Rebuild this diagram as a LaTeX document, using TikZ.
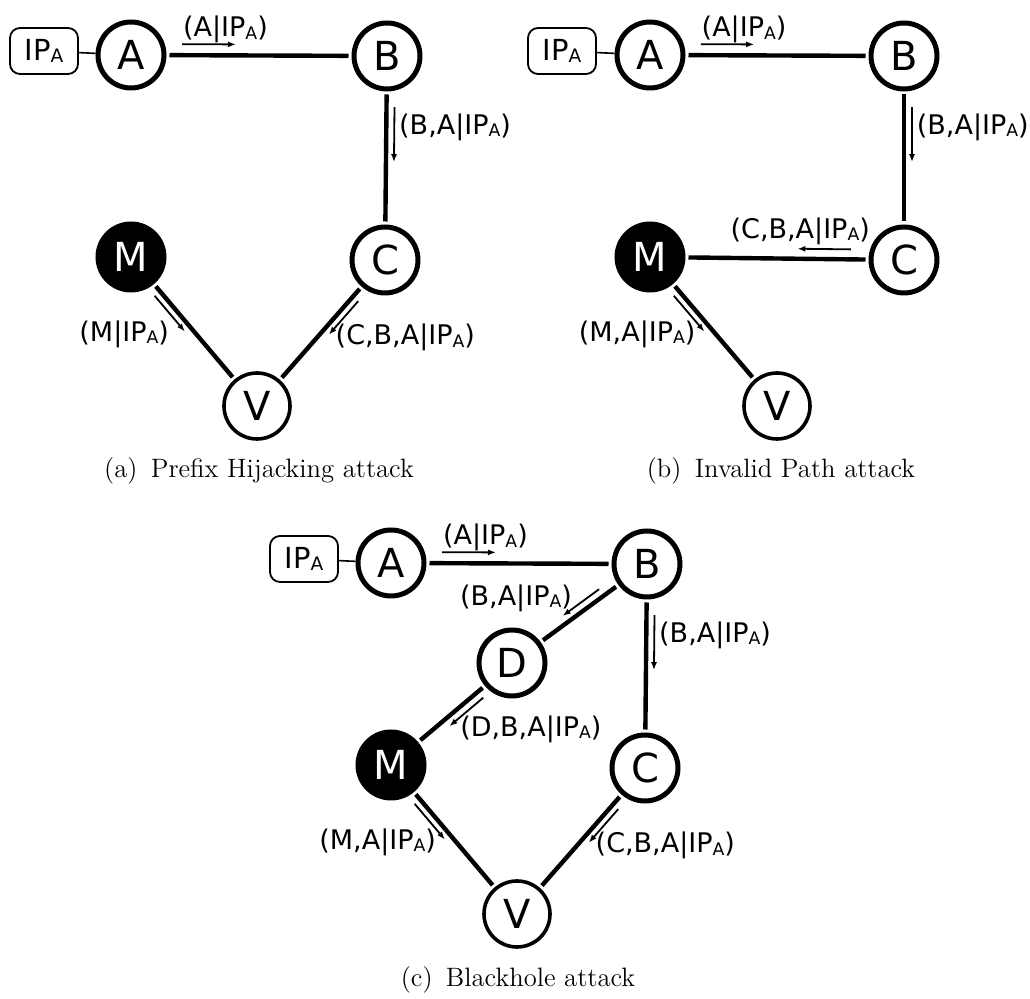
\documentclass[tikz,border=0pt]{standalone}
\usepackage{fontspec}
\usetikzlibrary{arrows.meta,calc}

\newfontfamily\nodefont{DejaVu Sans}
\newcommand{\lblfont}{\nodefont\fontsize{13.5}{14}\selectfont}
\newcommand{\boxfont}{\nodefont\fontsize{14.5}{15}\selectfont}
\newcommand{\ipa}{IP\raisebox{-0.15ex}{\fontsize{0.64em}{1em}\selectfont A}}

\tikzset{
  router/.style={circle, draw, line width=2.5pt, minimum size=33pt, inner sep=0pt,
    font=\nodefont\fontsize{20}{20}\selectfont},
  victim/.style={router, line width=1.8pt},
  attacker/.style={router, fill=black, text=white},
  prefixbox/.style={draw, rounded corners=5pt, line width=0.9pt, minimum width=34pt,
    minimum height=23pt, inner sep=0pt, font=\boxfont},
  link/.style={line width=2.2pt, shorten >=1.5pt, shorten <=1.5pt},
  msg/.style={line width=0.9pt, -{Latex[length=4pt,width=3pt]}},
  lbl/.style={font=\lblfont, inner sep=1pt},
  caption/.style={font=\fontsize{13.3}{16}\selectfont},
}

\begin{document}
\begin{tikzpicture}[x=0.5pt, y=-0.5pt]
\useasboundingbox (0,0) rectangle (1030,999);

% (a) prefix hijacking
\begin{scope}[name prefix=a-]
  \node[prefixbox] (ip) at (44,51) {\ipa};
  \node[router] (A) at (131,55) {A};
  \node[router] (B) at (387,56) {B};
  \node[router] (C) at (385,260) {C};
  \node[attacker] (M) at (131,257) {M};
  \node[victim] (V) at (257,406) {V};

  % links
  \draw[line width=0.8pt] (ip) -- (A);
  \draw[link] (A) -- (B);
  \draw[link] (B) -- (C);
  \draw[link] (C) -- (V);
  \draw[link] (M) -- (V);

  % announcements
  \draw[msg] ($(A)!0.2!(B)!5.5pt!90:(B)$) -- node[lbl, pos=0, anchor=south west, inner sep=0pt] (ab) {(A|\ipa)} ($(A)!0.41!(B)!5.5pt!90:(B)$);
  \draw[msg] ($(B)!0.25!(C)!4pt!90:(C)$) -- node[lbl, pos=0.37, anchor=west, inner sep=2pt] (bc) {(B,A|\ipa)} ($(B)!0.52!(C)!4pt!90:(C)$);
  \draw[msg] ($(C)!0.25!(V)!3.5pt!90:(V)$) -- node[lbl, pos=1, anchor=west, xshift=2pt, yshift=-1.5pt] (cv) {(C,B,A|\ipa)} ($(C)!0.48!(V)!3.5pt!90:(V)$);
  \draw[msg] ($(M)!0.23!(V)!3.5pt!-90:(V)$) -- node[lbl, pos=1, anchor=east, xshift=-6.5pt, yshift=-1.5pt] (mv) {(M|\ipa)} ($(M)!0.47!(V)!3.5pt!-90:(V)$);

  \node[caption] (cap) at (259,471) {(a)\hspace{0.5em}Prefix Hijacking attack};
\end{scope}

% (b) invalid path
\begin{scope}[name prefix=b-]
  \node[prefixbox] (ip) at (562,51) {\ipa};
  \node[router] (A) at (650,55) {A};
  \node[router] (B) at (904,56) {B};
  \node[router] (C) at (904,260) {C};
  \node[attacker] (M) at (650,257) {M};
  \node[victim] (V) at (777,406) {V};

  % links
  \draw[line width=0.8pt] (ip) -- (A);
  \draw[link] (A) -- (B);
  \draw[link] (B) -- (C);
  \draw[link] (C) -- (M);
  \draw[link] (M) -- (V);

  % announcements
  \draw[msg] ($(A)!0.2!(B)!5.5pt!90:(B)$) -- node[lbl, pos=0, anchor=south west, inner sep=0pt] (ab) {(A|\ipa)} ($(A)!0.41!(B)!5.5pt!90:(B)$);
  \draw[msg] ($(B)!0.25!(C)!4pt!90:(C)$) -- node[lbl, pos=0.37, anchor=west, inner sep=2pt] (bc) {(B,A|\ipa)} ($(B)!0.52!(C)!4pt!90:(C)$);
  \draw[msg] ($(C)!0.21!(M)!5pt!-90:(M)$) -- node[lbl, pos=0, anchor=south east, inner sep=0pt, xshift=10pt, yshift=2pt] (cm) {(C,B,A|\ipa)} ($(C)!0.42!(M)!5pt!-90:(M)$);
  \draw[msg] ($(M)!0.23!(V)!3.5pt!-90:(V)$) -- node[lbl, pos=1, anchor=east, xshift=-3pt, yshift=-1.5pt] (mv) {(M,A|\ipa)} ($(M)!0.47!(V)!3.5pt!-90:(V)$);

  \node[caption] (cap) at (781,471) {(b)\hspace{0.5em}Invalid Path attack};
\end{scope}

% (c) blackhole
\begin{scope}[name prefix=c-]
  \node[prefixbox] (ip) at (304,559) {\ipa};
  \node[router] (A) at (391,563) {A};
  \node[router] (B) at (647,564) {B};
  \node[router] (D) at (512,663) {D};
  \node[router] (C) at (645,768) {C};
  \node[attacker] (M) at (391,765) {M};
  \node[victim] (V) at (517,914) {V};

  % links
  \draw[line width=0.8pt] (ip) -- (A);
  \draw[link] (A) -- (B);
  \draw[link] (B) -- (D);
  \draw[link] (D) -- (M);
  \draw[link] (B) -- (C);
  \draw[link] (C) -- (V);
  \draw[link] (M) -- (V);

  % announcements
  \draw[msg] ($(A)!0.2!(B)!5.5pt!90:(B)$) -- node[lbl, pos=0, anchor=south west, inner sep=0pt] (ab) {(A|\ipa)} ($(A)!0.41!(B)!5.5pt!90:(B)$);
  \draw[msg] ($(B)!0.32!(D)!4pt!-90:(D)$) -- node[lbl, pos=0.5, anchor=east, xshift=-3pt, yshift=2pt] (bd) {(B,A|\ipa)} ($(B)!0.59!(D)!4pt!-90:(D)$);
  \draw[msg] ($(B)!0.25!(C)!4pt!90:(C)$) -- node[lbl, pos=0.37, anchor=west, inner sep=2pt] (bc) {(B,A|\ipa)} ($(B)!0.52!(C)!4pt!90:(C)$);
  \draw[msg] ($(D)!0.28!(M)!4pt!90:(M)$) -- node[lbl, pos=1, anchor=west, xshift=4pt, yshift=-1.5pt] (dm) {(D,B,A|\ipa)} ($(D)!0.56!(M)!4pt!90:(M)$);
  \draw[msg] ($(C)!0.25!(V)!3.5pt!90:(V)$) -- node[lbl, pos=1, anchor=west, xshift=2pt, yshift=-1.5pt] (cv) {(C,B,A|\ipa)} ($(C)!0.48!(V)!3.5pt!90:(V)$);
  \draw[msg] ($(M)!0.23!(V)!3.5pt!-90:(V)$) -- node[lbl, pos=1, anchor=east, xshift=-3pt, yshift=-1.5pt] (mv) {(M,A|\ipa)} ($(M)!0.47!(V)!3.5pt!-90:(V)$);

  \node[caption] (cap) at (518,980) {(c)\hspace{0.5em}Blackhole attack};
\end{scope}

\end{tikzpicture}
\end{document}
